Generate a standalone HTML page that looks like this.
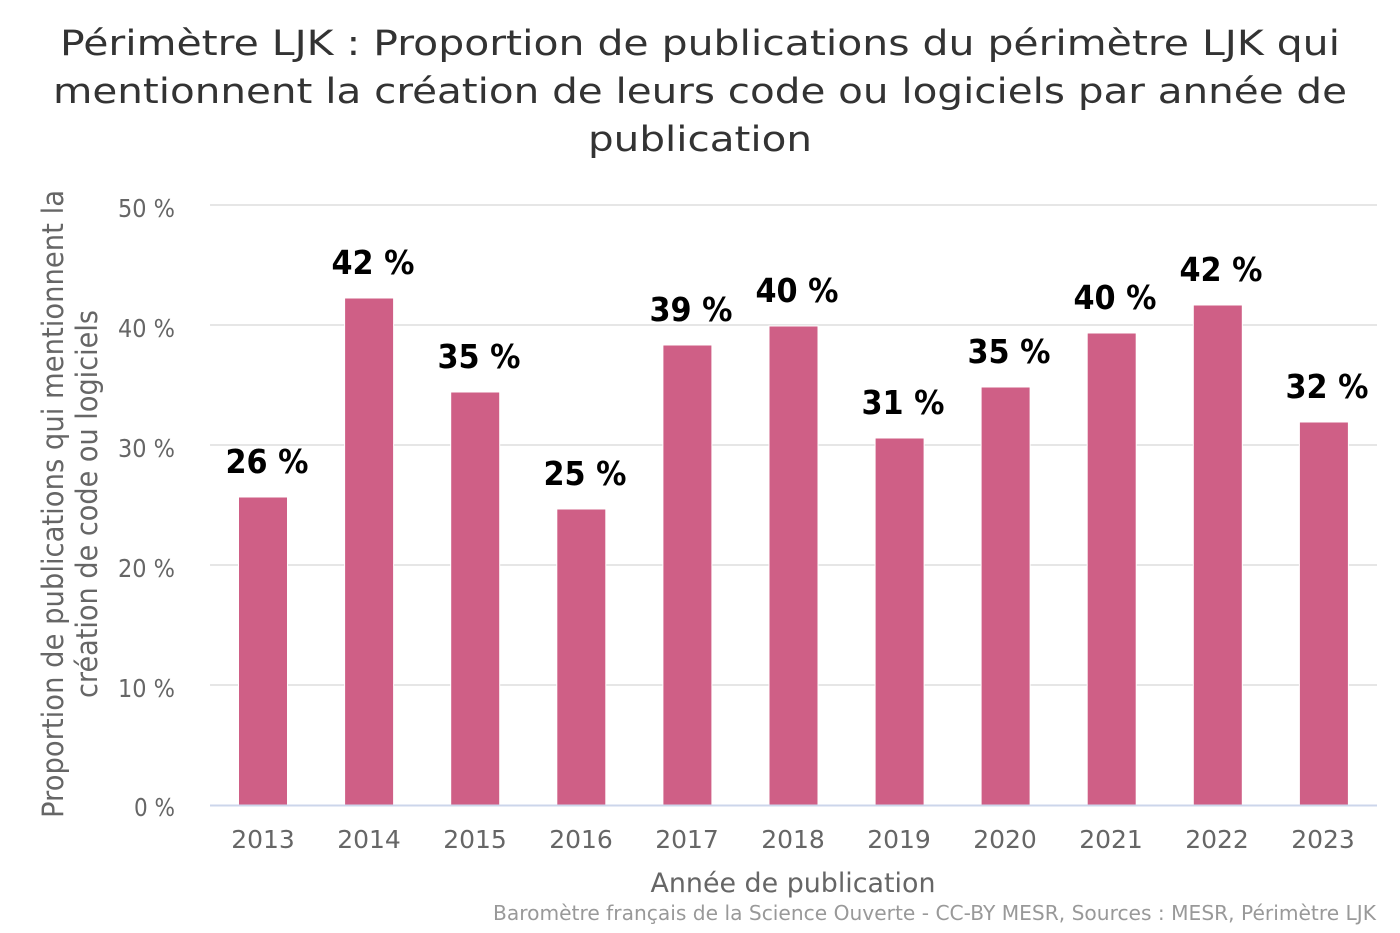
<!DOCTYPE html>
<html><head><meta charset="utf-8"><style>
html,body{margin:0;padding:0;background:#fff;}
svg{display:block;}
text{font-family:"DejaVu Sans","Liberation Sans",sans-serif;}
</style></head><body>
<svg width="1400" height="933" viewBox="0 0 1400 933" xmlns="http://www.w3.org/2000/svg">
<rect width="1400" height="933" fill="#fff"/>
<!-- title -->
<g fill="#333" font-size="35" text-anchor="middle" style="font-family:'DejaVu Sans Condensed','DejaVu Sans',sans-serif">
<text x="700" y="55" textLength="1280" lengthAdjust="spacingAndGlyphs">Périmètre LJK : Proportion de publications du périmètre LJK qui</text>
<text x="700" y="103" textLength="1294" lengthAdjust="spacingAndGlyphs">mentionnent la création de leurs code ou logiciels par année de</text>
<text x="700" y="151" textLength="224" lengthAdjust="spacingAndGlyphs">publication</text>
</g>
<!-- gridlines -->
<g stroke="#e6e6e6" stroke-width="2">
<line x1="210" y1="205" x2="1377" y2="205"/>
<line x1="210" y1="325" x2="1377" y2="325"/>
<line x1="210" y1="445" x2="1377" y2="445"/>
<line x1="210" y1="565" x2="1377" y2="565"/>
<line x1="210" y1="685" x2="1377" y2="685"/>
</g>
<!-- y labels -->
<g fill="#666" font-size="25" text-anchor="end">
<text x="175" y="217" textLength="57" lengthAdjust="spacingAndGlyphs">50 %</text>
<text x="175" y="337" textLength="57" lengthAdjust="spacingAndGlyphs">40 %</text>
<text x="175" y="457" textLength="57" lengthAdjust="spacingAndGlyphs">30 %</text>
<text x="175" y="577" textLength="57" lengthAdjust="spacingAndGlyphs">20 %</text>
<text x="175" y="697" textLength="57" lengthAdjust="spacingAndGlyphs">10 %</text>
<text x="175" y="816" textLength="41" lengthAdjust="spacingAndGlyphs">0 %</text>
</g>
<!-- y axis title -->
<g fill="#666" font-size="29" text-anchor="middle">
<text transform="translate(63,504) rotate(-90)" textLength="628" lengthAdjust="spacingAndGlyphs">Proportion de publications qui mentionnent la</text>
<text transform="translate(97,504) rotate(-90)" textLength="388" lengthAdjust="spacingAndGlyphs">création de code ou logiciels</text>
</g>
<!-- bars -->
<g fill="#cf5f86" stroke="#fff" stroke-width="1">
<rect x="238.5" y="497" width="49" height="308"/>
<rect x="344.6" y="298" width="49" height="507"/>
<rect x="450.7" y="392" width="49" height="413"/>
<rect x="556.8" y="509" width="49" height="296"/>
<rect x="662.9" y="345" width="49" height="460"/>
<rect x="769.0" y="326" width="49" height="479"/>
<rect x="875.1" y="438" width="49" height="367"/>
<rect x="981.1" y="387" width="49" height="418"/>
<rect x="1087.2" y="333" width="49" height="472"/>
<rect x="1193.3" y="305" width="49" height="500"/>
<rect x="1299.4" y="422" width="49" height="383"/>
</g>
<!-- axis line -->
<line x1="210" y1="805.5" x2="1377" y2="805.5" stroke="#ccd6eb" stroke-width="2"/>
<!-- data labels -->
<g fill="#000" font-size="33" font-weight="bold" text-anchor="middle">
<text x="267" y="473" textLength="83" lengthAdjust="spacingAndGlyphs">26 %</text>
<text x="373" y="274" textLength="83" lengthAdjust="spacingAndGlyphs">42 %</text>
<text x="479" y="368" textLength="83" lengthAdjust="spacingAndGlyphs">35 %</text>
<text x="585" y="485" textLength="83" lengthAdjust="spacingAndGlyphs">25 %</text>
<text x="691" y="321" textLength="83" lengthAdjust="spacingAndGlyphs">39 %</text>
<text x="797" y="302" textLength="83" lengthAdjust="spacingAndGlyphs">40 %</text>
<text x="903" y="414" textLength="83" lengthAdjust="spacingAndGlyphs">31 %</text>
<text x="1009" y="363" textLength="83" lengthAdjust="spacingAndGlyphs">35 %</text>
<text x="1115" y="309" textLength="83" lengthAdjust="spacingAndGlyphs">40 %</text>
<text x="1221" y="281" textLength="83" lengthAdjust="spacingAndGlyphs">42 %</text>
<text x="1327" y="398" textLength="83" lengthAdjust="spacingAndGlyphs">32 %</text>
</g>
<!-- x labels -->
<g fill="#666" font-size="25" text-anchor="middle">
<text x="263" y="848">2013</text>
<text x="369" y="848">2014</text>
<text x="475" y="848">2015</text>
<text x="581" y="848">2016</text>
<text x="687" y="848">2017</text>
<text x="793" y="848">2018</text>
<text x="899" y="848">2019</text>
<text x="1005" y="848">2020</text>
<text x="1111" y="848">2021</text>
<text x="1217" y="848">2022</text>
<text x="1323" y="848">2023</text>
</g>
<!-- x axis title -->
<text x="793" y="892" fill="#666" font-size="27" text-anchor="middle" textLength="285" lengthAdjust="spacingAndGlyphs">Année de publication</text>
<!-- credits -->
<text x="1376" y="920" fill="#999" font-size="20" text-anchor="end" textLength="883" lengthAdjust="spacingAndGlyphs">Baromètre français de la Science Ouverte - CC-BY MESR, Sources : MESR, Périmètre LJK</text>
</svg>
</body></html>
